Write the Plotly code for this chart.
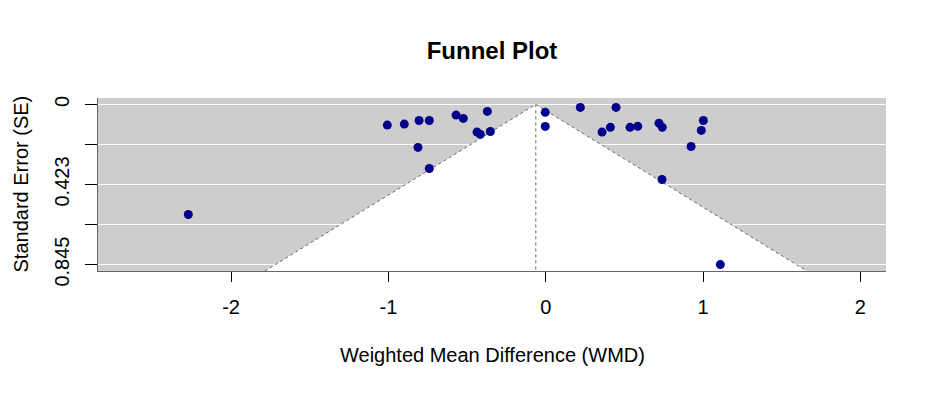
import plotly.graph_objects as go

# Study estimates (WMD) and their standard errors
wmd = [-2.272, -1.007, -0.899, -0.805, -0.740, -0.812, -0.740, -0.570, -0.524,
       -0.371, -0.437, -0.416, -0.352, -0.003, -0.003, 0.220, 0.358, 0.411,
       0.447, 0.536, 0.585, 0.720, 0.741, 1.002, 0.989, 0.924, 0.739, 1.110]
se = [0.581, 0.109, 0.104, 0.085, 0.085, 0.227, 0.338, 0.0565, 0.074,
      0.037, 0.146, 0.158, 0.143, 0.042, 0.116, 0.016, 0.146, 0.121,
      0.016, 0.121, 0.115, 0.099, 0.121, 0.085, 0.137, 0.222, 0.396, 0.845]

pooled = -0.063          # pooled WMD estimate (funnel centre)
z = 1.96

x_ticks = [-2, -1, 0, 1, 2]
se_max = max(se)
y_tickvals = [0, se_max / 4, se_max / 2, 3 * se_max / 4, se_max]
y_ticktext = ["0", "", "0.423", "", "0.845"]

# axis limits (R style 4% extension)
y_lo = -0.04 * se_max
y_hi = se_max * 1.04
x_lo, x_hi = -2.846, 2.163

fig = go.Figure()

# white pseudo-confidence region
fig.add_trace(go.Scatter(
    x=[pooled - z * y_hi, pooled, pooled + z * y_hi],
    y=[y_hi, 0, y_hi],
    mode="lines", fill="toself", fillcolor="white",
    line=dict(color="#666666", width=1, dash="dot"),
    hoverinfo="skip", showlegend=False))

# vertical reference line at pooled estimate
fig.add_trace(go.Scatter(
    x=[pooled, pooled], y=[0, y_hi], mode="lines",
    line=dict(color="#666666", width=1, dash="dot"),
    hoverinfo="skip", showlegend=False))

# studies
fig.add_trace(go.Scatter(
    x=wmd, y=se, mode="markers",
    marker=dict(color="#00008B", size=9, line=dict(width=0)),
    showlegend=False))

font = "Liberation Sans, Arial, sans-serif"

# page body has an 8px margin, so the figure is sized/offset accordingly
fig.update_layout(
    width=929, height=385,
    margin=dict(l=90, r=51, t=90, b=122),
    paper_bgcolor="white", plot_bgcolor="#CDCDCD",
    font=dict(family=font, size=20, color="black"),
    title=dict(text="<b>Funnel Plot</b>", x=0.5, xref="paper",
               y=1 - 43 / 385, yanchor="middle", yref="container",
               font=dict(size=24, family=font, color="black")),
    xaxis=dict(range=[x_lo, x_hi], tickvals=x_ticks, ticktext=[str(v) for v in x_ticks],
               showgrid=False, zeroline=False, showline=True, linecolor="#666666",
               linewidth=1, ticks="outside", ticklen=10, tickcolor="black",
               ticklabelstandoff=8, tickfont=dict(size=20)),
    yaxis=dict(range=[y_hi, y_lo], tickvals=y_tickvals, ticktext=y_ticktext,
               showgrid=True, gridcolor="white", gridwidth=1.3, zeroline=False,
               showline=True, linecolor="#666666", linewidth=1, ticks="outside",
               ticklen=12, tickcolor="black", tickangle=-90,
               ticklabelstandoff=8, tickfont=dict(size=20)),
    annotations=[
        dict(text="Weighted Mean Difference (WMD)", xref="paper", yref="paper",
             x=0.5, y=0, yshift=-84, xanchor="center", yanchor="middle",
             showarrow=False, font=dict(size=20)),
        dict(text="Standard Error (SE)", xref="paper", yref="paper",
             x=0, y=0.5, xshift=-78, xanchor="center", yanchor="middle",
             textangle=-90, showarrow=False, font=dict(size=20)),
    ],
)

fig.write_html("out.html")
